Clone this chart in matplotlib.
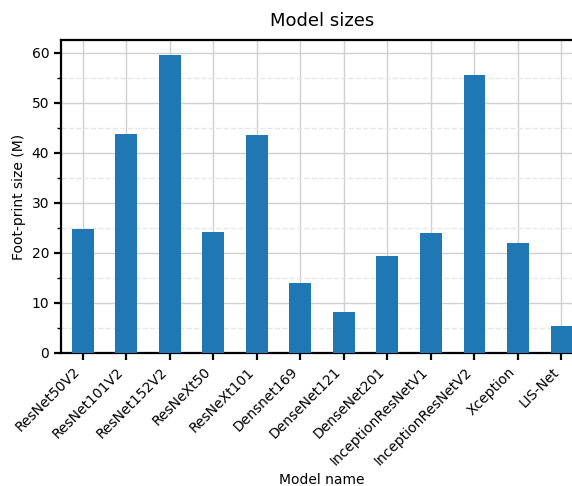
import matplotlib
matplotlib.use("Agg")
import matplotlib.pyplot as plt
from matplotlib.ticker import MultipleLocator

models = ["ResNet50V2", "ResNet101V2", "ResNet152V2", "ResNeXt50", "ResNeXt101",
          "Densnet169", "DenseNet121", "DenseNet201", "InceptionResNetV1",
          "InceptionResNetV2", "Xception", "LIS-Net"]
sizes = [24.8, 43.8, 59.5, 24.2, 43.6, 13.9, 8.1, 19.4, 23.9, 55.6, 22.0, 5.3]

fig = plt.figure(figsize=(5.72, 4.86), dpi=100)
ax = fig.add_axes([0.1066, 0.2737, 0.913, 0.644])
x = list(range(len(models)))
ax.bar(x, sizes, width=0.5, color="#1f77b4", zorder=3)
ax.set_xlim(-0.5, len(models) - 0.5)
ax.set_ylim(0, 62.6)
ax.set_xticks(x)
ax.set_xticklabels(models, rotation=45, ha="right", fontsize=10)
ax.yaxis.set_major_locator(MultipleLocator(10))
ax.yaxis.set_minor_locator(MultipleLocator(5))
ax.tick_params(axis="y", labelsize=10)
ax.grid(which="major", color="#d0d0d0", linewidth=1.0, zorder=0)
ax.grid(which="minor", axis="y", color="#e6e6e6", linestyle="--", linewidth=1.0, zorder=0)
for s in ["left", "top", "bottom"]:
    ax.spines[s].set_linewidth(1.6)
ax.spines["right"].set_visible(False)
ax.tick_params(which="major", width=1.6, length=5)
ax.tick_params(which="minor", width=1.0, length=3)
ax.set_title("Model sizes", fontsize=13, pad=10)
ax.set_ylabel("Foot-print size (M)")
ax.set_xlabel("Model name")
fig.savefig("out.png", dpi=100)
